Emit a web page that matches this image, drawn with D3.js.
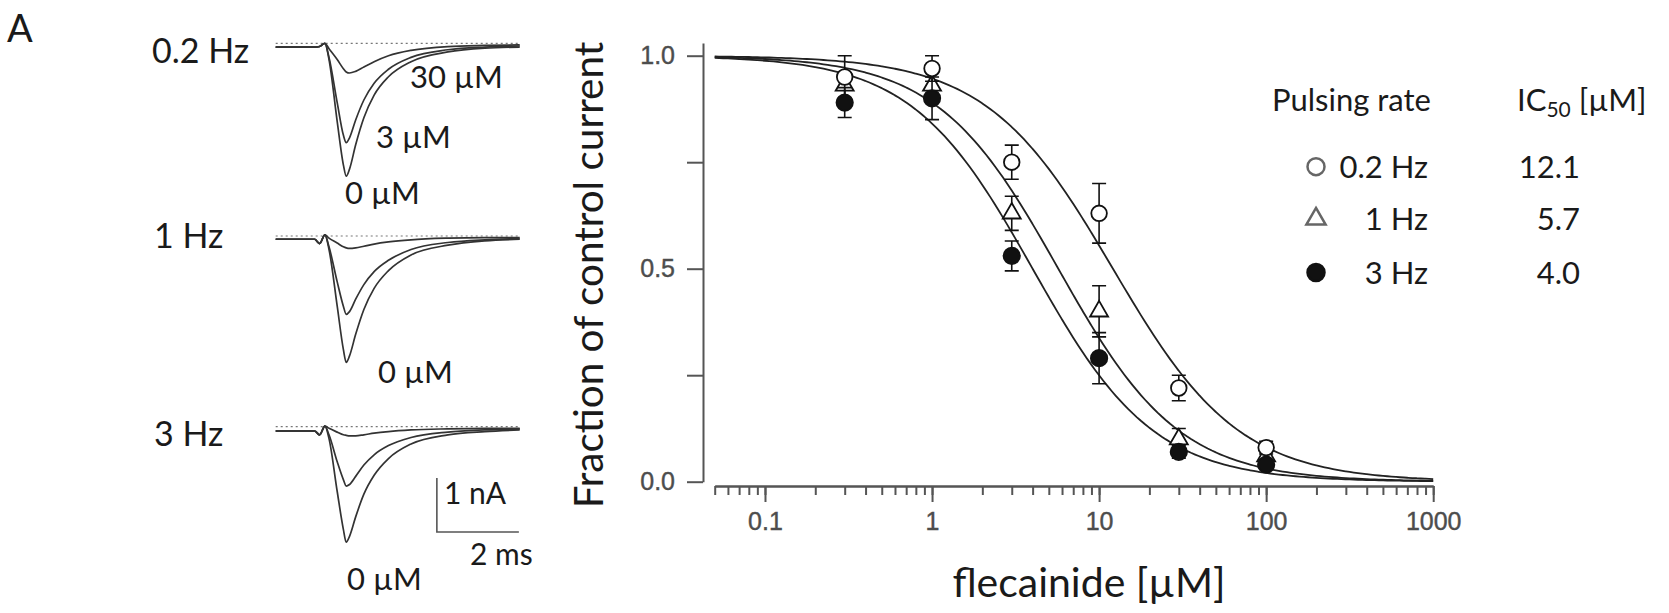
<!DOCTYPE html>
<html>
<head>
<meta charset="utf-8">
<script src="https://cdn.jsdelivr.net/npm/d3@7"></script>
<style>
  body { margin: 0; background: #fff; }
  svg { display: block; }
  .lab { font-family: Lato, "Open Sans", sans-serif; fill: #1a1a1a; }
  .axis text { font-family: "Liberation Sans", Arial, sans-serif; fill: #4d4d4d; font-size: 25px; stroke: #4d4d4d; stroke-width: 0.4px; }
  .axis path, .axis line { stroke: #555; stroke-width: 2; }
</style>
</head>
<body>
<script>
// flecainide concentrations (µM)
var conc = [0.3, 1, 3, 10, 30, 100];

// fraction of control current, mean and SEM for each pulsing rate
var frac02 = [0.95, 0.97, 0.75, 0.63, 0.22, 0.08];
var sem02  = [0.05, 0.03, 0.04, 0.07, 0.03, 0.015];
var frac1  = [0.93, 0.93, 0.63, 0.40, 0.10, 0.06];
var sem1   = [0.03, 0.03, 0.04, 0.06, 0.025, 0.015];
var frac3  = [0.89, 0.90, 0.53, 0.29, 0.07, 0.04];
var sem3   = [0.035, 0.05, 0.035, 0.06, 0.015, 0.01];

// fitted dose-response parameters
var rates = ["0.2 Hz", "1 Hz", "3 Hz"];
var ic50 = [12.1, 5.7, 4.0];
var hillSlope = [1.15, 1.2, 1.2];

// axis ticks
var xMajor = [0.1, 1, 10, 100, 1000];
var yTicks = [0, 0.25, 0.5, 0.75, 1];

// current traces (time in ms, current in nA relative to dotted zero line)
var traceT = [0, 0.95, 1.07, 1.2, 1.3, 1.5, 1.65, 1.72, 1.8, 1.95, 2.15, 2.4, 2.75, 3.3, 4.2, 5.1, 5.95];
var tr02_0  = [-0.07, -0.07, -0.06, 0.0, -0.3, -1.45, -2.25, -2.46, -2.33, -1.88, -1.38, -0.96, -0.62, -0.34, -0.16, -0.09, -0.07];
var tr02_3  = [-0.07, -0.07, -0.06, 0.0, -0.26, -1.1, -1.7, -1.84, -1.75, -1.42, -1.05, -0.74, -0.48, -0.26, -0.12, -0.07, -0.05];
var tr02_30 = [-0.07, -0.07, -0.06, 0.0, -0.1, -0.3, -0.47, -0.53, -0.55, -0.52, -0.44, -0.34, -0.23, -0.13, -0.06, -0.04, -0.03];
var tr1_0   = [-0.06, -0.06, -0.14, 0.02, -0.25, -1.3, -2.1, -2.34, -2.22, -1.82, -1.36, -0.97, -0.64, -0.35, -0.17, -0.09, -0.06];
var tr1_3   = [-0.06, -0.06, -0.14, 0.02, -0.2, -0.85, -1.3, -1.45, -1.4, -1.17, -0.9, -0.66, -0.45, -0.25, -0.12, -0.07, -0.05];
var tr1_30  = [-0.06, -0.06, -0.14, 0.02, -0.04, -0.13, -0.2, -0.22, -0.23, -0.22, -0.19, -0.15, -0.11, -0.07, -0.04, -0.03, -0.03];
var tr3_0   = [-0.08, -0.08, -0.15, 0.01, -0.22, -1.2, -1.9, -2.14, -2.03, -1.67, -1.25, -0.9, -0.59, -0.32, -0.15, -0.09, -0.06];
var tr3_3   = [-0.08, -0.08, -0.15, 0.01, -0.15, -0.65, -0.98, -1.1, -1.07, -0.92, -0.71, -0.52, -0.35, -0.2, -0.1, -0.06, -0.04];
var tr3_30  = [-0.08, -0.08, -0.15, 0.01, -0.03, -0.1, -0.15, -0.16, -0.17, -0.17, -0.15, -0.12, -0.09, -0.06, -0.04, -0.03, -0.03];

// scale bar: 2 ms by 1 nA, in 3 Hz panel units
var barT = [3.93, 5.93];
var barI = [-0.95, -1.95];

var svg = d3.select("body").append("svg")
    .attr("width", 1669)
    .attr("height", 613);

// ---------- left: current traces ----------
var tx = d3.scaleLinear().domain([0, 5.95]).range([275.7, 519.7]);
var panelZero = [43.3, 236, 426.7];
var panels = [
  {traces: [tr02_0, tr02_3, tr02_30]},
  {traces: [tr1_0, tr1_3, tr1_30]},
  {traces: [tr3_0, tr3_3, tr3_30]}
];

panels.forEach(function(p, i) {
  var ty = d3.scaleLinear().domain([0, -1]).range([panelZero[i], panelZero[i] + 54]);
  p.ty = ty;
  svg.append("line")
      .attr("x1", tx(0)).attr("x2", tx(5.95))
      .attr("y1", ty(0)).attr("y2", ty(0))
      .attr("stroke", "#777")
      .attr("stroke-width", 1.2)
      .attr("stroke-dasharray", "2,3");
  var trLine = d3.line()
      .x(function(d, k) { return tx(traceT[k]); })
      .y(function(d) { return ty(d); })
      .curve(d3.curveMonotoneX);
  p.traces.forEach(function(tr) {
    svg.append("path")
        .attr("d", trLine(tr))
        .attr("fill", "none")
        .attr("stroke", "#333")
        .attr("stroke-width", 1.7);
  });
});

// scale bar
var ty3 = panels[2].ty;
svg.append("path")
    .attr("d", "M" + tx(barT[0]) + "," + ty3(barI[0]) + "V" + ty3(barI[1]) + "H" + tx(barT[1]))
    .attr("fill", "none")
    .attr("stroke", "#555")
    .attr("stroke-width", 1.6);

var traceLabels = [
  {t: "A", x: 7, y: 42, s: 38},
  {t: "0.2 Hz", x: 152, y: 63, s: 34},
  {t: "30 \u00B5M", x: 410, y: 88, s: 31},
  {t: "3 \u00B5M", x: 376, y: 148, s: 31},
  {t: "0 \u00B5M", x: 345, y: 204, s: 31},
  {t: "1 Hz", x: 154, y: 248, s: 34},
  {t: "0 \u00B5M", x: 378, y: 383, s: 31},
  {t: "3 Hz", x: 154, y: 446, s: 34},
  {t: "1 nA", x: 444, y: 504, s: 30},
  {t: "2 ms", x: 470, y: 565, s: 30},
  {t: "0 \u00B5M", x: 347, y: 590, s: 31}
];
svg.selectAll(".tlab").data(traceLabels).enter().append("text")
    .attr("class", "lab tlab")
    .attr("x", function(d) { return d.x; })
    .attr("y", function(d) { return d.y; })
    .style("font-size", function(d) { return d.s + "px"; })
    .text(function(d) { return d.t; });

// ---------- right: concentration-response ----------
var x = d3.scaleLog().domain([0.05, 1000]).range([714.7, 1433.2]);
var y = d3.scaleLinear().domain([0, 1]).range([481.7, 55.7]);

var yAxisScale = y.copy().domain([0, 1.03]).range([y(0), y(1.03)]);
svg.append("g")
    .attr("class", "axis")
    .attr("transform", "translate(703,0)")
    .call(d3.axisLeft(yAxisScale)
      .tickValues(yTicks)
      .tickSize(16)
      .tickSizeOuter(0)
      .tickPadding(12)
      .tickFormat(function(d) { return d % 0.5 === 0 ? d3.format(".1f")(d) : ""; }));

svg.append("g")
    .attr("class", "axis")
    .attr("transform", "translate(0,486)")
    .call(d3.axisBottom(x).tickValues(x.ticks()).tickSize(9).tickSizeOuter(0).tickFormat(""));
svg.append("g")
    .attr("class", "axis")
    .attr("transform", "translate(0,486)")
    .call(d3.axisBottom(x).tickValues(xMajor).tickSize(16).tickSizeOuter(0).tickPadding(10)
      .tickFormat(d3.format("~g")));

// fitted curves
var fitConc = x.ticks().concat(d3.range(-1.3, 3.0001, 0.025).map(function(e) { return Math.pow(10, e); }))
    .sort(d3.ascending);
ic50.forEach(function(ic, i) {
  var fitLine = d3.line()
      .x(function(c) { return x(c); })
      .y(function(c) { return y(1 / (1 + Math.pow(c / ic, hillSlope[i]))); });
  svg.append("path")
      .attr("d", fitLine(fitConc))
      .attr("fill", "none")
      .attr("stroke", "#222")
      .attr("stroke-width", 1.8);
});

var series = [
  {mean: frac1, sem: sem1, shape: "tri"},
  {mean: frac3, sem: sem3, shape: "dot"},
  {mean: frac02, sem: sem02, shape: "ring"}
];

series.forEach(function(s) {
  var pts = conc.map(function(c, k) { return {c: c, m: s.mean[k], e: s.sem[k]}; });
  var g = svg.append("g");
  g.selectAll(".eb").data(pts).enter().append("path")
      .attr("d", function(d) {
        var cx = x(d.c), y0 = y(d.m - d.e), y1 = y(d.m + d.e);
        return "M" + cx + "," + y0 + "V" + y1 +
               "M" + (cx - 7) + "," + y0 + "H" + (cx + 7) +
               "M" + (cx - 7) + "," + y1 + "H" + (cx + 7);
      })
      .attr("fill", "none")
      .attr("stroke", "#111")
      .attr("stroke-width", 1.6);
  if (s.shape === "tri") {
    g.selectAll(".mk").data(pts).enter().append("path")
        .attr("transform", function(d) { return "translate(" + x(d.c) + "," + y(d.m) + ")"; })
        .attr("d", d3.symbol(d3.symbolTriangle, 140))
        .attr("fill", "#fff")
        .attr("stroke", "#111")
        .attr("stroke-width", 1.8);
  } else {
    g.selectAll(".mk").data(pts).enter().append("circle")
        .attr("cx", function(d) { return x(d.c); })
        .attr("cy", function(d) { return y(d.m); })
        .attr("r", s.shape === "dot" ? 8.2 : 7.8)
        .attr("fill", s.shape === "dot" ? "#111" : "#fff")
        .attr("stroke", "#111")
        .attr("stroke-width", 1.8);
  }
});

// axis titles
svg.append("text")
    .attr("class", "lab")
    .attr("transform", "translate(603,275) rotate(-90)")
    .attr("text-anchor", "middle")
    .style("font-size", "40.5px")
    .text("Fraction of control current");

svg.append("text")
    .attr("class", "lab")
    .attr("x", 1089)
    .attr("y", 597)
    .attr("text-anchor", "middle")
    .style("font-size", "41px")
    .text("flecainide [\u00B5M]");

// legend
var legendY = [166.7, 219, 272.5];
svg.append("text")
    .attr("class", "lab")
    .attr("x", 1272).attr("y", 111)
    .style("font-size", "31px")
    .text("Pulsing rate");

var icTitle = svg.append("text")
    .attr("class", "lab")
    .attr("x", 1517).attr("y", 111)
    .style("font-size", "31px");
icTitle.append("tspan").text("IC");
icTitle.append("tspan").attr("dy", 6).style("font-size", "21px").text("50");
icTitle.append("tspan").attr("dy", -6).text(" [\u00B5M]");

var legendShapes = ["ring", "tri", "dot"];
legendShapes.forEach(function(shape, i) {
  if (shape === "tri") {
    svg.append("path")
        .attr("transform", "translate(1316," + legendY[i] + ")")
        .attr("d", d3.symbol(d3.symbolTriangle, 160))
        .attr("fill", "#fff")
        .attr("stroke", "#666")
        .attr("stroke-width", 2.5);
  } else {
    svg.append("circle")
        .attr("cx", 1316).attr("cy", legendY[i])
        .attr("r", 8.5)
        .attr("fill", shape === "dot" ? "#111" : "#fff")
        .attr("stroke", shape === "dot" ? "#111" : "#666")
        .attr("stroke-width", 2.5);
  }
  svg.append("text")
      .attr("class", "lab")
      .attr("x", 1428).attr("y", legendY[i] + 11)
      .attr("text-anchor", "end")
      .style("font-size", "31px")
      .text(rates[i]);
  svg.append("text")
      .attr("class", "lab")
      .attr("x", 1580).attr("y", legendY[i] + 11)
      .attr("text-anchor", "end")
      .style("font-size", "31px")
      .text(d3.format(".1f")(ic50[i]));
});
</script>
</body>
</html>
